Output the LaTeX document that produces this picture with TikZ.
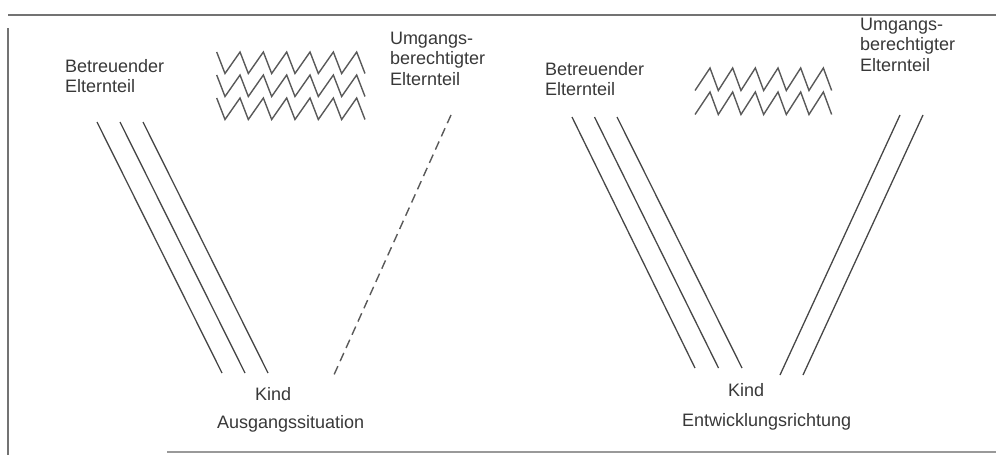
\documentclass[tikz,border=0pt]{standalone}
\usepackage{fontspec}
\setmainfont{Liberation Sans}
\begin{document}
\begin{tikzpicture}[x=1pt,y=-1pt,
  lbl/.style={anchor=north west,inner sep=0pt,outer sep=0pt,text=black!78,
    font=\fontsize{18}{20.5}\selectfont,align=left},
  tie/.style={draw=black!72,line width=1.3pt},
  weak/.style={draw=black!65,line width=1.4pt,dash pattern=on 9pt off 5.5pt},
  zig/.style={draw=black!65,line width=1.4pt,line join=miter},
  frame/.style={draw=black!55,line width=1.4pt}]
\useasboundingbox (0,0) rectangle (996,455);
% frame
\coordinate (ftl) at (8,15);
\coordinate (ftr) at (996,15);
\coordinate (flt) at (8,28);
\coordinate (flb) at (8,455);
\coordinate (fbl) at (167,452);
\coordinate (fbr) at (996,452);
\draw[frame] (ftl) -- (ftr);
\draw[frame] (flt) -- (flb);
\draw[frame,draw=black!40] (fbl) -- (fbr);

% ---------------- left panel ----------------
\node[lbl] (bL) at (65,59) {Betreuender\\Elternteil};
\node[lbl] (uL) at (390,32) {Umgangs-\\berechtigter\\Elternteil};
\node[lbl] (kL) at (255,387) {Kind};
\node[lbl] (sL) at (217,415) {Ausgangssituation};

\foreach \k in {0,1,2}{
  \coordinate (lt\k) at ({97+23*\k},122);
  \coordinate (lb\k) at ({222+23*\k},373);
  \draw[tie] (lt\k) -- (lb\k);
}
\coordinate (dT) at (451,115);
\coordinate (dB) at (333,377);
\draw[weak] (dT) -- (dB);

% zigzags left (3 rows)
\foreach \r in {0,1,2}{
  \pgfmathsetmacro{\py}{52+23*\r}
  \pgfmathsetmacro{\vy}{\py+21.5}
  \draw[zig] (216.7,\py)
    \foreach \i in {0,...,5}{ -- ({216.7+\i*23.33+8.3},\vy) -- ({216.7+(\i+1)*23.33},\py) }
    -- ({216.7+6*23.33+8.3},\vy);
}

% ---------------- right panel ----------------
\node[lbl] (bR) at (545,62) {Betreuender\\Elternteil};
\node[lbl] (uR) at (860,18) {Umgangs-\\berechtigter\\Elternteil};
\node[lbl] (kR) at (728,383) {Kind};
\node[lbl] (sR) at (682,413) {Entwicklungsrichtung};

\foreach \k in {0,1,2}{
  \coordinate (rt\k) at ({572+22.5*\k},117);
  \coordinate (rb\k) at ({695+23.5*\k},368);
  \draw[tie] (rt\k) -- (rb\k);
}
\foreach \k in {0,1}{
  \coordinate (ut\k) at ({900+23*\k},115);
  \coordinate (ub\k) at ({780+23*\k},375);
  \draw[tie] (ut\k) -- (ub\k);
}

% zigzags right (2 rows)
\foreach \r in {0,1}{
  \pgfmathsetmacro{\py}{68+24*\r}
  \pgfmathsetmacro{\vy}{\py+22.5}
  \draw[zig] (695,\vy)
    \foreach \i in {0,...,5}{ -- ({710+\i*22.67},\py) -- ({710+\i*22.67+8.3},\vy) };
}
\end{tikzpicture}
\end{document}
